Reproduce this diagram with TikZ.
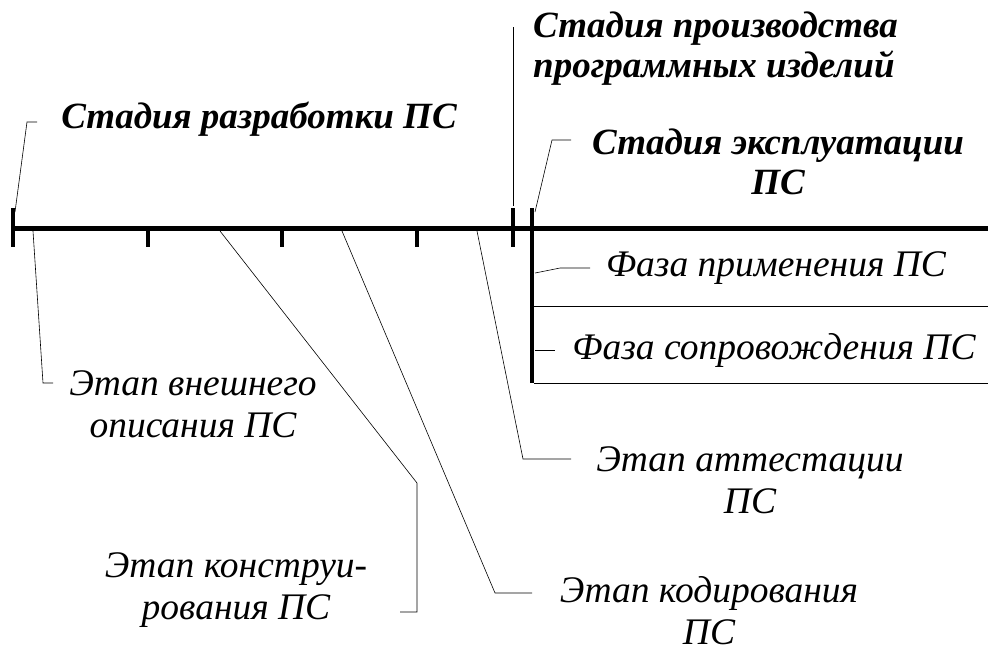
\documentclass[tikz,border=0pt]{standalone}
\usepackage{fontspec}
\setmainfont{Liberation Serif}
\begin{document}
\begin{tikzpicture}[x=1pt,y=-1pt,
  axis/.style={line width=5pt},
  tick/.style={line width=4.5pt},
  thin/.style={line width=0.8pt},
  lead/.style={line width=0.6pt},
  head/.style={font=\fontsize{37}{40}\selectfont\bfseries\itshape, inner sep=0pt},
  lbl/.style={font=\fontsize{37.5}{42}\selectfont\itshape, inner sep=0pt, align=center}]
\useasboundingbox (0,0) rectangle (988,651);
% axis
\coordinate (A0) at (13,228);
\coordinate (AE) at (988,228);
\draw[axis] (A0) -- (AE);
\coordinate (T0a) at (13,208); \coordinate (T0b) at (13,247);
\draw[tick] (T0a) -- (T0b);
\foreach \x/\n in {148/1,282/2,417/3}{
  \coordinate (Ta\n) at (\x,228); \coordinate (Tb\n) at (\x,247);
  \draw[tick] (Ta\n) -- (Tb\n);}
\coordinate (T4a) at (513,208); \coordinate (T4b) at (513,247);
\draw[tick] (T4a) -- (T4b);
\coordinate (V0) at (532,208); \coordinate (V1) at (532,383);
\draw[tick] (V0) -- (V1);
% phase box lines
\coordinate (H1a) at (534,306); \coordinate (H1b) at (988,306);
\coordinate (H2a) at (534,383); \coordinate (H2b) at (988,383);
\draw[thin] (H1a) -- (H1b);
\draw[thin] (H2a) -- (H2b);
% texts
\node[head, anchor=base] (dev) at (259,128) {Стадия разработки ПС};
\node[head, anchor=west, align=left] (prod) at (533,49) {Стадия производства\\программных изделий};
\node[head, anchor=center, align=center] (expl) at (778,162) {Стадия эксплуатации\\ПС};
\node[lbl] (app) at (776,268) {Фаза применения ПС};
\node[lbl] (sup) at (774,350) {Фаза сопровождения ПС};
\node[lbl] (ext) at (193,404) {Этап внешнего\\описания ПС};
\node[lbl] (con) at (236,590) {Этап конструи-\\рования ПС};
\node[lbl] (cod) at (709,611) {Этап кодирования\\ПС};
\node[lbl] (att) at (750,480) {Этап аттестации\\ПС};
% leaders
\coordinate (d0) at (15,212); \coordinate (d1) at (27,122); \coordinate (d2) at (37,122);
\draw[lead] (d0) -- (d1) -- (d2);
\coordinate (p0) at (513,206); \coordinate (p1) at (513,27);
\draw[lead] (p0) -- (p1);
\coordinate (e0) at (535,212); \coordinate (e1) at (552,140); \coordinate (e2) at (571,140);
\draw[lead] (e0) -- (e1) -- (e2);
\coordinate (a0) at (535,273); \coordinate (a1) at (560,268); \coordinate (a2) at (590,268);
\draw[lead] (a0) -- (a1) -- (a2);
\coordinate (s0) at (535,350); \coordinate (s1) at (555,350);
\draw[lead] (s0) -- (s1);
\coordinate (x0) at (33,231); \coordinate (x1) at (43,383); \coordinate (x2) at (53,383);
\draw[lead] (x0) -- (x1) -- (x2);
\coordinate (c0) at (220,231); \coordinate (c1) at (417,483); \coordinate (c2) at (417,612); \coordinate (c3) at (400,612);
\draw[lead] (c0) -- (c1) -- (c2) -- (c3);
\coordinate (k0) at (342,231); \coordinate (k1) at (495,593); \coordinate (k2) at (532,593);
\draw[lead] (k0) -- (k1) -- (k2);
\coordinate (t0) at (477,231); \coordinate (t1) at (523,459); \coordinate (t2) at (571,459);
\draw[lead] (t0) -- (t1) -- (t2);
\end{tikzpicture}
\end{document}
